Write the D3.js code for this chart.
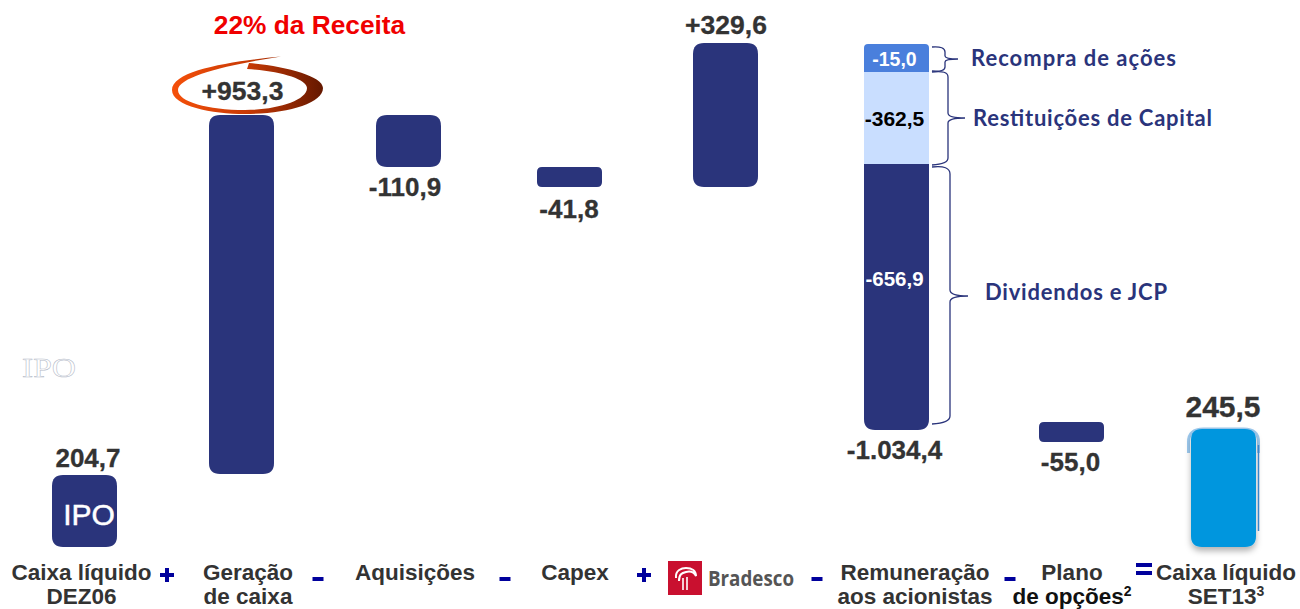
<!DOCTYPE html>
<html>
<head>
<meta charset="utf-8">
<script src="https://cdn.jsdelivr.net/npm/d3@7"></script>
<style>
  html, body { margin: 0; padding: 0; background: #fff; overflow: hidden; }
  text { font-family: "Liberation Sans", Arial, sans-serif; font-weight: bold; }
</style>
</head>
<body>
<div id="chart-container"></div>
<script>
// values
const flowNames = ["Geração de caixa", "Aquisições", "Capex", "Bradesco", "Remuneração aos acionistas", "Plano de opções"];
const flowValues = [953.3, -110.9, -41.8, 329.6, -1034.4, -55.0];
const startValue = 204.7;
const endValue = 245.5;
const flowLabels = ["+953,3", "-110,9", "-41,8", "+329,6", "-1.034,4", "-55,0"];
const startLabel = "204,7";
const endLabel = "245,5";

const payoutNames = ["Recompra de ações", "Restituições de Capital", "Dividendos e JCP"];
const payoutValues = [15.0, 362.5, 656.9];
const payoutLabels = ["-15,0", "-362,5", "-656,9"];

const columns = ["start", "Geração de caixa", "Aquisições", "Capex", "Bradesco", "Remuneração aos acionistas", "Plano de opções", "end"];
const axisLines = [
  ["Caixa líquido", "DEZ06"],
  ["Geração", "de caixa"],
  ["Aquisições"],
  ["Capex"],
  [],
  ["Remuneração", "aos acionistas"],
  ["Plano", "de opções"],
  ["Caixa líquido", "SET13"],
];
const operators = ["+", "-", "-", "-", "+", "-", "-", "="];

const svgWidth = 1300;
const svgHeight = 609;
const barWidth = 65;
const navy = "#2a347b";
const textColor = "#333333";

const svg = d3
  .select("#chart-container")
  .append("svg")
  .attr("width", svgWidth)
  .attr("height", svgHeight)
  .style("display", "block");

const defs = svg.append("defs");

const swoosh = defs
  .append("linearGradient")
  .attr("id", "swoosh")
  .attr("x1", "0%")
  .attr("x2", "100%");
swoosh.append("stop").attr("offset", "0%").attr("stop-color", "#f5500a");
swoosh.append("stop").attr("offset", "50%").attr("stop-color", "#c83a05");
swoosh.append("stop").attr("offset", "100%").attr("stop-color", "#641800");

defs
  .append("filter")
  .attr("id", "barShadow")
  .attr("x", "-20%")
  .attr("y", "-10%")
  .attr("width", "140%")
  .attr("height", "125%")
  .append("feDropShadow")
  .attr("dx", 0)
  .attr("dy", 4)
  .attr("stdDeviation", 3)
  .attr("flood-color", "#000")
  .attr("flood-opacity", 0.3);

// the bars in the slide are uneven, so x is ordinal and y is piecewise
const x = d3
  .scaleOrdinal()
  .domain(columns)
  .range([84.5, 241.5, 408.5, 569.5, 725.5, 896.5, 1071.5, 1223.5]);

// running cash balance to pixels, not proportional in the source
const running = d3.cumsum([startValue].concat(flowValues));
const y = d3
  .scaleLinear()
  .domain([running[6], running[5], running[3], running[2], running[1], running[4]])
  .range([442, 422, 187, 167, 115, 43]);
const yLow = d3.scaleLinear().domain([0, startValue]).range([547, 474]);
const yTotals = d3.scaleLinear().domain([0, startValue, endValue]).range([547, 475, 429]);
const payoutSums = d3.cumsum(payoutValues);
const yPayout = d3
  .scaleLinear()
  .domain([0, payoutSums[0], payoutSums[1], payoutSums[2]])
  .range([44, 72, 164, 430]);

function flowY(v) {
  return v < startValue + 1 ? yLow(v) : y(v);
}

function barPath(cx, top, bottom, rTop, rBottom) {
  const l = cx - barWidth / 2;
  const r = cx + barWidth / 2;
  const p = d3.path();
  p.moveTo(l + rTop, top);
  p.lineTo(r - rTop, top);
  p.quadraticCurveTo(r, top, r, top + rTop);
  p.lineTo(r, bottom - rBottom);
  p.quadraticCurveTo(r, bottom, r - rBottom, bottom);
  p.lineTo(l + rBottom, bottom);
  p.quadraticCurveTo(l, bottom, l, bottom - rBottom);
  p.lineTo(l, top + rTop);
  p.quadraticCurveTo(l, top, l + rTop, top);
  p.closePath();
  return p.toString();
}

// flow bars, the payout column is drawn separately below
const flows = flowNames.map((name, i) => ({
  name: name,
  label: flowLabels[i],
  from: running[i],
  to: running[i + 1],
}));
const simpleFlows = flows.filter((d) => d.name !== "Remuneração aos acionistas");

svg
  .selectAll(".flow")
  .data(simpleFlows)
  .enter()
  .append("path")
  .attr("class", "flow")
  .attr("fill", navy)
  .attr("d", (d) => {
    const top = flowY(Math.max(d.from, d.to));
    const bottom = flowY(Math.min(d.from, d.to));
    const radius = Math.min(11, (bottom - top) / 4);
    return barPath(x(d.name), top, bottom, radius, radius);
  });

// opening balance
svg
  .append("path")
  .attr("fill", navy)
  .attr("d", barPath(x("start"), yTotals(startValue), yTotals(0), 11, 11));

svg
  .append("text")
  .attr("x", x("start") + 4.5)
  .attr("y", 525)
  .attr("text-anchor", "middle")
  .attr("fill", "#fff")
  .attr("stroke", "#fff")
  .attr("stroke-width", 0.5)
  .attr("font-size", 30)
  .style("font-weight", "normal")
  .text("IPO");

// faint leftover of the IPO label on the slide
svg
  .append("text")
  .attr("x", 49)
  .attr("y", 377)
  .attr("text-anchor", "middle")
  .attr("fill", "#fff")
  .attr("stroke", "#b4bac8")
  .attr("stroke-width", 0.5)
  .attr("font-size", 28)
  .attr("textLength", 54)
  .attr("lengthAdjust", "spacingAndGlyphs")
  .style("font-family", "'Liberation Serif', serif")
  .style("font-weight", "normal")
  .text("IPO");

// closing balance with its ghost outline
const endX = x("end");
svg
  .append("path")
  .attr("fill", "none")
  .attr("stroke", "#9cc9ee")
  .attr("stroke-width", 3)
  .attr("d", "M" + (endX - 35) + ",453 V442 Q" + (endX - 35) + ",429 " + (endX - 20) + ",429 H" + (endX + 20) + " Q" + (endX + 35) + ",429 " + (endX + 35) + ",442 V453");
svg
  .append("line")
  .attr("x1", endX + 35)
  .attr("x2", endX + 35)
  .attr("y1", 445)
  .attr("y2", 531)
  .attr("stroke", "#3f8fd8")
  .attr("stroke-width", 1.5);
svg
  .append("path")
  .attr("fill", "#0096de")
  .attr("filter", "url(#barShadow)")
  .attr("d", barPath(endX, yTotals(endValue), yTotals(0), 11, 11));

// payout column
const payoutColors = ["#4a7fdc", "#c9deff", navy];
const payoutText = ["#fff", "#000", "#fff"];
const payoutFonts = [19.5, 21, 20.5];
const payouts = payoutValues.map((v, i) => ({
  name: payoutNames[i],
  label: payoutLabels[i],
  top: i === 0 ? 0 : payoutSums[i - 1],
  bottom: payoutSums[i],
}));

svg
  .selectAll(".payout")
  .data(payouts)
  .enter()
  .append("path")
  .attr("class", "payout")
  .attr("fill", (d, i) => payoutColors[i])
  .attr("d", (d, i) =>
    barPath(
      x("Remuneração aos acionistas"),
      yPayout(d.top),
      yPayout(d.bottom),
      i === 0 ? 4 : 0,
      i === 2 ? 11 : 0
    )
  );

svg
  .selectAll(".payout-label")
  .data(payouts)
  .enter()
  .append("text")
  .attr("class", "payout-label")
  .attr("x", x("Remuneração aos acionistas") - 2)
  .attr("y", (d, i) => [66, 126, 286][i])
  .attr("text-anchor", "middle")
  .attr("fill", (d, i) => payoutText[i])
  .attr("font-size", (d, i) => payoutFonts[i])
  .text((d) => d.label);

// braces and their captions
const braces = [
  "M932,47 Q945,46 945,52 V56 Q945,59 958,59 Q945,59 945,62 V67 Q945,72 932,71",
  "M932,72 Q948,70 948,77 V113 Q948,118 965,118 Q948,118 948,123 V158 Q948,164 932,165",
  "M932,167 Q950,165 950,174 V290 Q950,296 968,296 Q950,296 950,302 V416 Q950,423 932,424",
];
svg
  .selectAll(".brace")
  .data(braces)
  .enter()
  .append("path")
  .attr("class", "brace")
  .attr("fill", "none")
  .attr("stroke", navy)
  .attr("stroke-width", 1.3)
  .attr("d", (d) => d);

const captionX = [971, 973, 985];
const captionY = [66, 126, 300];
const captionLength = [205, 239, 182];
svg
  .selectAll(".caption")
  .data(payoutNames)
  .enter()
  .append("text")
  .attr("class", "caption")
  .attr("x", (d, i) => captionX[i])
  .attr("y", (d, i) => captionY[i])
  .attr("fill", navy)
  .attr("font-size", 22)
  .attr("textLength", (d, i) => captionLength[i])
  .attr("lengthAdjust", "spacing")
  .style("font-family", "Lato, sans-serif")
  .text((d) => d);

// value labels
const valueLabels = [
  { key: "start", text: startLabel, dx: 3.5, baseline: 467, size: 26 },
  { key: flowNames[0], text: flowLabels[0], dx: 1, baseline: 100, size: 26.5 },
  { key: flowNames[1], text: flowLabels[1], dx: -3.5, baseline: 196, size: 26 },
  { key: flowNames[2], text: flowLabels[2], dx: -0.5, baseline: 218, size: 26 },
  { key: flowNames[3], text: flowLabels[3], dx: 0.5, baseline: 34, size: 26.5 },
  { key: flowNames[4], text: flowLabels[4], dx: -2, baseline: 459, size: 26 },
  { key: flowNames[5], text: flowLabels[5], dx: -1, baseline: 471, size: 26 },
  { key: "end", text: endLabel, dx: -0.5, baseline: 417, size: 30 },
];

svg
  .selectAll(".value")
  .data(valueLabels)
  .enter()
  .append("text")
  .attr("class", "value")
  .attr("x", (d) => x(d.key) + d.dx)
  .attr("y", (d) => d.baseline)
  .attr("text-anchor", "middle")
  .attr("fill", textColor)
  .attr("stroke", textColor)
  .attr("stroke-width", 0.3)
  .attr("font-size", (d) => d.size)
  .text((d) => d.text);

// hand drawn ring around +953,3
svg
  .append("path")
  .attr("fill", "url(#swoosh)")
  .attr(
    "d",
    "M281,56.5 C232,61 172,70 172,90 C172,106 212,114 245,114 C285,114 323,104 323,88 C323,76 285,66 249,63 L247,69 C280,71 307,79 307,88 C307,101 275,110 245,110 C208,110 178,102 178,90 C178,76 232,64 281,56.5 Z"
  );

svg
  .append("text")
  .attr("x", 309.5)
  .attr("y", 34)
  .attr("text-anchor", "middle")
  .attr("fill", "#f00000")
  .attr("font-size", 26.3)
  .text("22% da Receita");

// category labels under the bars
const labelX = [81.5, 248, 415, 575, 0, 915, 1072, 1226];
const lineY = [580, 604];
columns.forEach((c, i) => {
  axisLines[i].forEach((line, j) => {
    const t = svg
      .append("text")
      .attr("x", labelX[i])
      .attr("y", lineY[j])
      .attr("text-anchor", "middle")
      .attr("fill", line === "de opções" ? "#111" : textColor)
      .attr("font-size", 22.5)
      .text(line);
    const sup = line === "de opções" ? "2" : line === "SET13" ? "3" : null;
    if (sup) {
      t.append("tspan").attr("font-size", 14).attr("dy", -8).text(sup);
    }
  });
});

// operators between the labels
const operatorX = [167, 318, 505, 0, 644, 817, 1010, 1144];
const opOrder = operators.map((o, i) => ({ o: o, x: operatorX[i] })).filter((d) => d.x > 0);
opOrder.forEach((d) => {
  const cy = d.o === "+" ? 575 : d.o === "=" ? 569 : 579;
  const g = svg.append("g").attr("fill", "#00009c");
  if (d.o === "=") {
    g.append("rect").attr("x", d.x - 8).attr("y", cy - 6).attr("width", 16).attr("height", 4);
    g.append("rect").attr("x", d.x - 8).attr("y", cy + 2).attr("width", 16).attr("height", 4);
  } else if (d.o === "+") {
    g.append("rect").attr("x", d.x - 7).attr("y", cy - 2).attr("width", 14).attr("height", 4);
    g.append("rect").attr("x", d.x - 2).attr("y", cy - 7).attr("width", 4).attr("height", 14);
  } else {
    g.append("rect").attr("x", d.x - 5.5).attr("y", cy - 2).attr("width", 11).attr("height", 4);
  }
});

// Bradesco logo
const logo = svg.append("g").attr("transform", "translate(668,561)");
logo.append("rect").attr("width", 34).attr("height", 34).attr("fill", "#c9102f");
logo
  .append("path")
  .attr("fill", "none")
  .attr("stroke", "#fff")
  .attr("stroke-width", 2)
  .attr("d", "M8,17 C7,9 14,7 18,7 C24,7 28,10 28,15 C26,11 22,10 18,11 C14,12 11,13 11,20");
logo
  .append("path")
  .attr("fill", "none")
  .attr("stroke", "#fff")
  .attr("stroke-width", 1.6)
  .attr("d", "M15,29 V17 M19,29 V16");
svg
  .append("text")
  .attr("x", 708)
  .attr("y", 586)
  .attr("fill", "#555")
  .attr("font-size", 21)
  .attr("textLength", 86)
  .attr("lengthAdjust", "spacingAndGlyphs")
  .style("font-family", "'Open Sans', sans-serif")
  .text("Bradesco");
</script>
</body>
</html>
